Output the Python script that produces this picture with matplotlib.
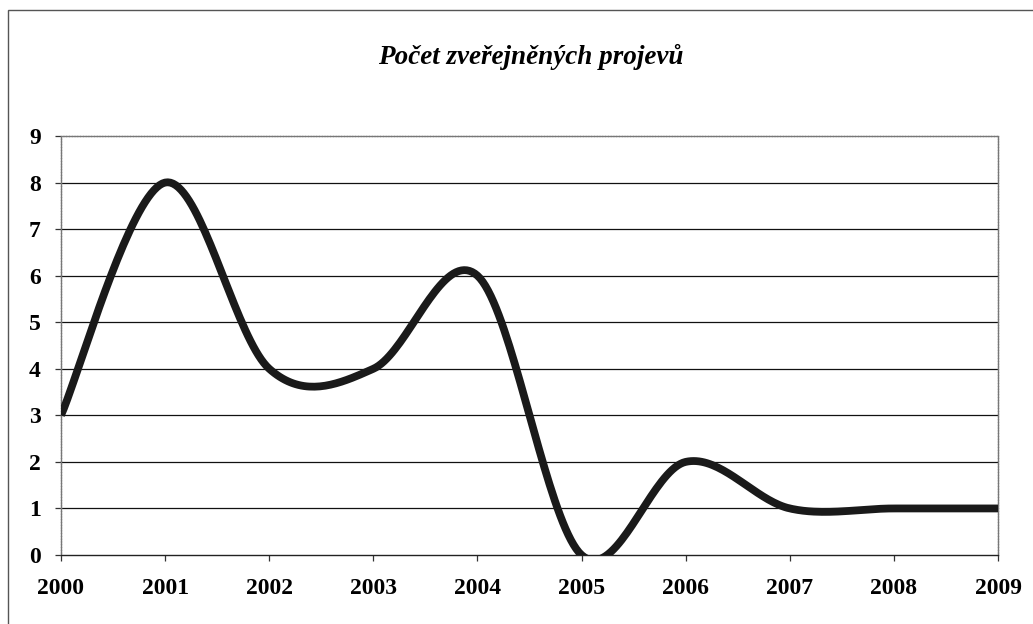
"""Recreation of the smoothed line chart 'Počet zveřejněných projevů'."""
import numpy as np
import matplotlib

matplotlib.use("Agg")
import matplotlib.pyplot as plt
from matplotlib.patches import Rectangle

# chart data
years = [2000, 2001, 2002, 2003, 2004, 2005, 2006, 2007, 2008, 2009]
speeches = [3, 8, 4, 4, 6, 0, 2, 1, 1, 1]
y_ticks = [0, 1, 2, 3, 4, 5, 6, 7, 8, 9]
title = "Počet zveřejněných projevů"


def _smooth(x, y, steps=40):
    """Excel-like smoothed line: cubic Bezier through each point."""
    x = np.asarray(x, dtype=float)
    y = np.asarray(y, dtype=float)
    n = len(x)
    xs, ys = [], []
    for i in range(n - 1):
        p0 = np.array([x[i], y[i]])
        p3 = np.array([x[i + 1], y[i + 1]])
        prev = np.array([x[i - 1], y[i - 1]]) if i > 0 else p0
        nxt = np.array([x[i + 2], y[i + 2]]) if i + 2 < n else p3
        c1 = p0 + (p3 - prev) / 6.0
        c2 = p3 - (nxt - p0) / 6.0
        t = np.linspace(0, 1, steps)[:, None]
        pts = ((1 - t) ** 3 * p0 + 3 * (1 - t) ** 2 * t * c1
               + 3 * (1 - t) * t ** 2 * c2 + t ** 3 * p3)
        xs.extend(pts[:, 0])
        ys.extend(pts[:, 1])
    return np.array(xs), np.array(ys)


plt.rcParams["font.family"] = ["Liberation Serif", "DejaVu Serif"]

fig = plt.figure(figsize=(10.33, 6.24), dpi=100)
fig.patch.set_facecolor("white")

# chart area border
fig.patches.append(Rectangle((8 / 1033, -0.05), 1.1, 1 - 10 / 624 + 0.05,
                             transform=fig.transFigure, fill=False,
                             edgecolor="#555555", linewidth=1.0))

ax = fig.add_axes([61 / 1033, 1 - 555 / 624, 937 / 1033, 419 / 624])

sx, sy = _smooth(years, speeches)
ax.plot(sx, sy, color="#1a1a1a", linewidth=5.6, solid_capstyle="butt",
        solid_joinstyle="round", zorder=3)

ax.set_xlim(years[0], years[-1])
ax.set_ylim(y_ticks[0], y_ticks[-1])
ax.set_xticks(years)
ax.set_yticks(y_ticks)
ax.set_xticklabels([str(v) for v in years])
ax.set_yticklabels([str(v) for v in y_ticks])

for v in y_ticks[1:-1]:
    ax.axhline(v, color="#111111", linewidth=0.9, zorder=1)

for side in ("top", "right", "left"):
    ax.spines[side].set_color("#777777")
    ax.spines[side].set_linewidth(1.0)
    ax.spines[side].set_linestyle((0, (1.5, 0.5)))
ax.spines["bottom"].set_color("#222222")
ax.spines["bottom"].set_linewidth(1.0)

ax.tick_params(axis="x", direction="out", length=4.5, width=0.9,
               color="#333333", pad=12, labelsize=17)
ax.tick_params(axis="y", direction="out", length=4.5, width=0.9,
               color="#333333", pad=10, labelsize=17)
for lab in ax.get_xticklabels() + ax.get_yticklabels():
    lab.set_fontweight("bold")

fig.text(531 / 1033, 1 - 57 / 624, title, ha="center", va="center",
         fontsize=19.5, fontweight="bold", fontstyle="italic")

fig.savefig("out.png", dpi=100, facecolor="white")
